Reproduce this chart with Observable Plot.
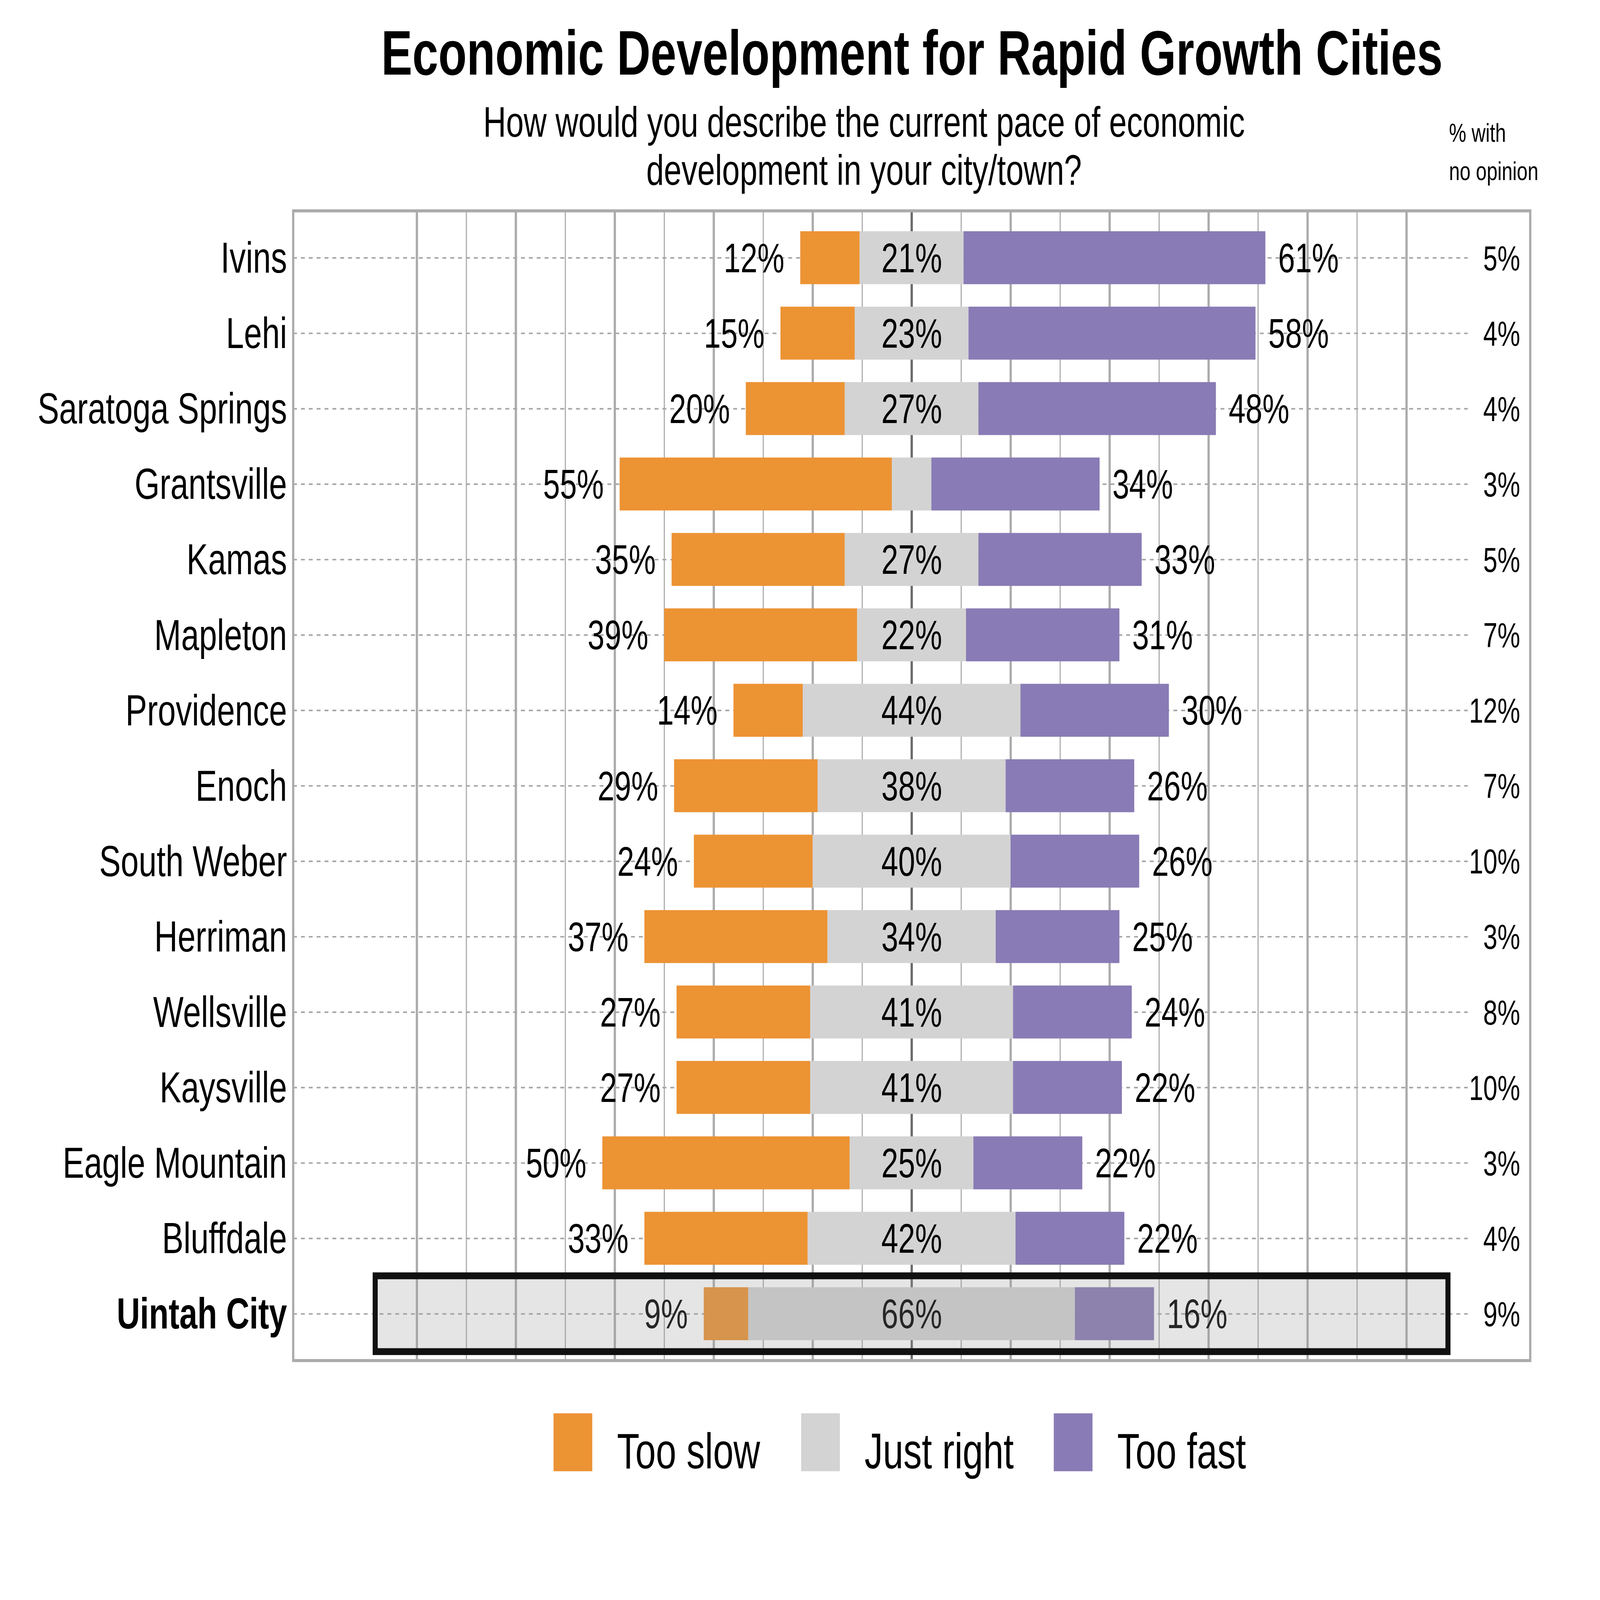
<!DOCTYPE html>
<html>
<head>
<meta charset="utf-8">
<script src="https://cdn.jsdelivr.net/npm/d3@7"></script>
<script src="https://cdn.jsdelivr.net/npm/@observablehq/plot@0.6"></script>
<style>
  html, body { margin: 0; padding: 0; background: #fff; overflow: hidden; }
  #wrap { position: absolute; left: 0; top: 0; width: 5700px; height: 4200px; transform-origin: 0 0;
          font-family: "Liberation Sans", Arial, sans-serif; color: #000; overflow: hidden; background: #fff; }
  #chart { position: absolute; left: 0; top: 0; width: 5700px; height: 4200px; }
  #chart svg { max-width: none !important; }
  .abs { position: absolute; white-space: nowrap; }
  #title { left: 3249px; top: 56px; transform: translateX(-50%); font-size: 166px; font-weight: bold; line-height: 1; }
  #subtitle { left: 3078px; top: 257px; transform: translateX(-50%); font-size: 113px; line-height: 126px; text-align: center; }
  #noop-head { left: 5162px; top: 298px; font-size: 69px; line-height: 101px; }
  .key { position: absolute; top: 3710px; width: 138px; height: 152px; }
  .klabel { position: absolute; top: 3743px; font-size: 131px; line-height: 1; white-space: nowrap; }
</style>
</head>
<body>
<div id="wrap">
  <div id="chart"></div>
  <div id="title" class="abs">Economic Development for Rapid Growth Cities</div>
  <div id="subtitle" class="abs">How would you describe the current pace of economic<br>development in your city/town?</div>
  <div id="noop-head" class="abs">% with<br>no opinion</div>
  <div id="legend"></div>
</div>
<script>
// ---- Data ----
const cities = ["Ivins", "Lehi", "Saratoga Springs", "Grantsville", "Kamas", "Mapleton", "Providence",
  "Enoch", "South Weber", "Herriman", "Wellsville", "Kaysville", "Eagle Mountain", "Bluffdale", "Uintah City"];
const tooSlow   = [12, 15, 20, 55, 35, 39, 14, 29, 24, 37, 27, 27, 50, 33, 9];
const justRight = [21, 23, 27,  8, 27, 22, 44, 38, 40, 34, 41, 41, 25, 42, 66];
const tooFast   = [61, 58, 48, 34, 33, 31, 30, 26, 26, 25, 24, 22, 22, 22, 16];
const noOpinion = [ 5,  4,  4,  3,  5,  7, 12,  7, 10,  3,  8, 10,  3,  4, 9];
const categories = ["Too slow", "Just right", "Too fast"];
const colors = ["#EC9334", "#D3D3D3", "#897BB5"];
const majorTicks = [-100, -80, -60, -40, -20, 0, 20, 40, 60, 80, 100];
const minorTicks = [-90, -70, -50, -30, -10, 10, 30, 50, 70, 90];
const highlightCity = "Uintah City";
const highlightSpan = [-108.4, 108.4];
const xDomain = [-125, 125];

// ---- Derived tables ----
const rows = cities.map((city, i) => {
  const half = justRight[i] / 2;
  return {city, slow: tooSlow[i], right: justRight[i], fast: tooFast[i], noop: noOpinion[i],
    slowStart: -half - tooSlow[i], rightStart: -half, rightEnd: half, fastEnd: half + tooFast[i]};
});
const segments = rows.flatMap(r => [
  {city: r.city, category: "Too slow", x1: r.slowStart, x2: r.rightStart},
  {city: r.city, category: "Just right", x1: r.rightStart, x2: r.rightEnd},
  {city: r.city, category: "Too fast", x1: r.rightEnd, x2: r.fastEnd}
]);
const highlight = [{city: highlightCity, x1: highlightSpan[0], x2: highlightSpan[1]}];

const plot = Plot.plot({
  width: 5700,
  height: 4200,
  marginLeft: 1044,
  marginRight: 249,
  marginTop: 553,
  marginBottom: 629,
  style: {fontFamily: "Liberation Sans, Arial, sans-serif", background: "white", overflow: "visible"},
  x: {domain: xDomain, axis: null},
  y: {domain: cities, type: "band", paddingInner: 0.3, paddingOuter: 0.25, axis: null},
  color: {domain: categories, range: colors},
  marks: [
    Plot.ruleX(minorTicks, {stroke: "#ababab", strokeWidth: 4}),
    Plot.ruleX(majorTicks, {stroke: "#ababab", strokeWidth: 8}),
    Plot.ruleX([0], {stroke: "#6b6b6b", strokeWidth: 8}),
    Plot.ruleY(cities, {y: d => d, x1: xDomain[0], x2: 112.4, stroke: "#a5a5a5", strokeWidth: 4, strokeDasharray: "14,14"}),
    Plot.frame({stroke: "#ababab", strokeWidth: 8}),
    Plot.barX(segments, {y: "city", x1: "x1", x2: "x2", fill: "category"}),
    Plot.text(rows, {y: "city", x: "slowStart", text: d => d.slow + "%", textAnchor: "end", dx: -57, dy: 3,
      fontSize: 108, fill: "black", ariaLabel: "slow-labels"}),
    Plot.text(rows, {y: "city", x: "fastEnd", text: d => d.fast + "%", textAnchor: "start", dx: 45, dy: 3,
      fontSize: 108, fill: "black", ariaLabel: "fast-labels"}),
    Plot.text(rows.filter(d => d.right >= 10), {y: "city", x: d => (d.rightStart + d.rightEnd) / 2,
      text: d => d.right + "%", textAnchor: "middle", dy: 3, fontSize: 108, fill: "black"}),
    Plot.text(rows, {y: "city", frameAnchor: "right", text: d => d.noop + "%", textAnchor: "end", dx: -36, dy: 3,
      fontSize: 91, fill: "black", ariaLabel: "noop-labels"}),
    Plot.text(rows.filter(d => d.city !== highlightCity), {y: "city", frameAnchor: "left", text: "city",
      textAnchor: "end", dx: -22, dy: 2, fontSize: 115, fill: "black"}),
    Plot.text(rows.filter(d => d.city === highlightCity), {y: "city", frameAnchor: "left", text: "city",
      textAnchor: "end", dx: -22, dy: 2, fontSize: 115, fontWeight: "bold", fill: "black"}),
    Plot.barX(highlight, {y: "city", x1: "x1", x2: "x2", insetTop: -30, insetBottom: -30,
      fill: "#999999", fillOpacity: 0.25, stroke: "#111111", strokeWidth: 18})
  ]
});
document.getElementById("chart").appendChild(plot);

// white label boxes behind the outer value labels
const pads = {"slow-labels": [10, 10], "fast-labels": [10, 10], "noop-labels": [55, 10]};
for (const [name, [padL, padR]] of Object.entries(pads)) {
  const g = plot.querySelector(`g[aria-label="${name}"]`);
  if (!g) continue;
  g.querySelectorAll("text").forEach(t => {
    const b = t.getBBox();
    const r = document.createElementNS("http://www.w3.org/2000/svg", "rect");
    r.setAttribute("x", b.x - padL);
    r.setAttribute("y", b.y);
    r.setAttribute("width", b.width + padL + padR);
    r.setAttribute("height", b.height);
    r.setAttribute("fill", "white");
    r.setAttribute("stroke", "none");
    const tr = t.getAttribute("transform");
    if (tr) r.setAttribute("transform", tr);
    t.parentNode.insertBefore(r, t);
  });
}

// legend
const legend = document.getElementById("legend");
const keyLefts = [1972, 2854, 3754];
categories.forEach((c, i) => {
  const k = document.createElement("div");
  k.className = "key";
  k.style.left = keyLefts[i] + "px";
  k.style.background = colors[i];
  const l = document.createElement("div");
  l.className = "klabel";
  l.style.left = (keyLefts[i] + 226) + "px";
  l.textContent = c;
  legend.appendChild(k);
  legend.appendChild(l);
});

// fit the 5700x4200 composition into whatever window the page is given
function fit() {
  const sx = window.innerWidth / 5700, sy = window.innerHeight / 4200;
  document.getElementById("wrap").style.transform = `scale(${sx}, ${sy})`;
}
fit();
window.addEventListener("resize", fit);
</script>
</body>
</html>
